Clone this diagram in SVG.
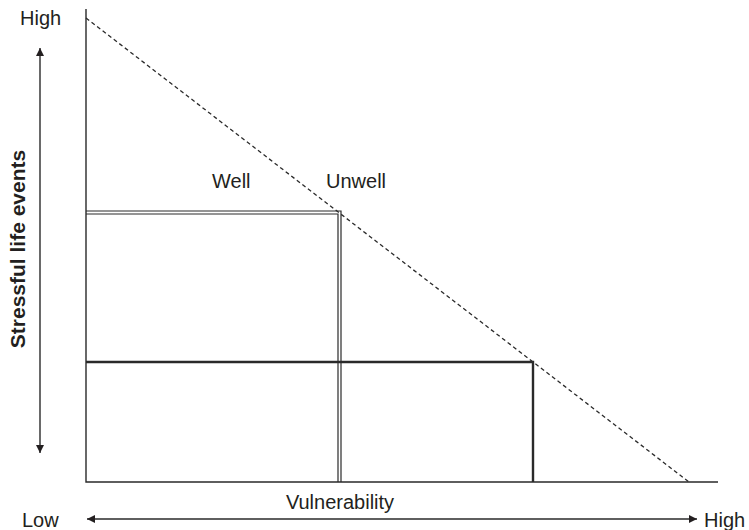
<svg xmlns="http://www.w3.org/2000/svg" width="749" height="530" viewBox="0 0 749 530">
  <defs>
    <style>
      .lbl { font-family: "Liberation Sans", Arial, sans-serif; font-size: 20px; fill: #231f20; }
      .bold { font-weight: bold; font-size: 21px; }
      .axis { stroke: #2a2a2a; stroke-width: 1.4; fill: none; }
      .thin { stroke: #2a2a2a; stroke-width: 1.2; fill: none; }
      .thick { stroke: #2a2a2a; stroke-width: 2.4; fill: none; }
      .dash { stroke: #2a2a2a; stroke-width: 1.3; stroke-dasharray: 4 3; fill: none; }
    </style>
    <marker id="tip" viewBox="0 0 10 10" refX="10" refY="5" markerWidth="8" markerHeight="8" markerUnits="userSpaceOnUse" orient="auto-start-reverse">
      <path d="M0,0 L10,5 L0,10 z" fill="#231f20"/>
    </marker>
  </defs>
  <rect width="749" height="530" fill="#fff"/>

  <g id="connectors">
    <!-- axes -->
    <path class="axis" d="M86,9 L86,482 L718,482"/>
    <!-- threshold line -->
    <line class="dash" x1="86" y1="18" x2="689" y2="482"/>
    <!-- double-ruled box (well/unwell boundary) -->
    <path class="thin" d="M86,211 L341,211 L341,482"/>
    <path class="thin" d="M86,214 L338,214 L338,482"/>
    <!-- heavy box -->
    <path class="thick" d="M86,362 L533,362 L533,482"/>
    <!-- axis arrows -->
    <line class="axis" x1="40" y1="48" x2="40" y2="453" marker-start="url(#tip)" marker-end="url(#tip)"/>
    <line class="axis" x1="87" y1="519" x2="697" y2="519" marker-start="url(#tip)" marker-end="url(#tip)"/>
  </g>

  <g id="label-high-y"><text class="lbl" x="20" y="25">High</text></g>
  <g id="label-well"><text class="lbl" x="212" y="188">Well</text></g>
  <g id="label-unwell"><text class="lbl" x="326" y="188">Unwell</text></g>
  <g id="label-low"><text class="lbl" x="22" y="527">Low</text></g>
  <g id="label-vulnerability"><text class="lbl" x="340" y="509" text-anchor="middle">Vulnerability</text></g>
  <g id="label-high-x"><text class="lbl" x="704" y="527">High</text></g>
  <g id="label-stress"><text class="lbl bold" transform="translate(25,249) rotate(-90)" text-anchor="middle">Stressful life events</text></g>
</svg>
